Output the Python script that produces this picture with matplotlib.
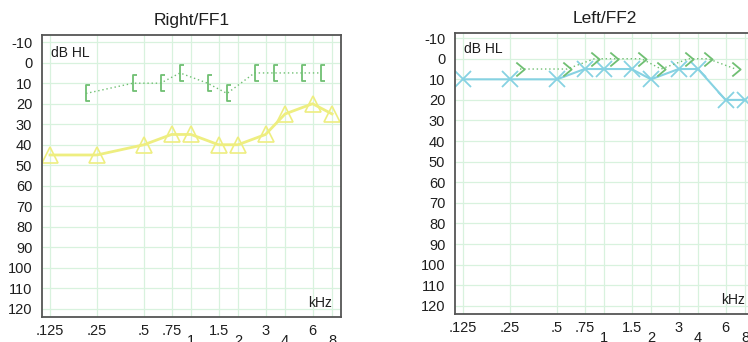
import numpy as np
import matplotlib
matplotlib.use('Agg')
import matplotlib.pyplot as plt
from matplotlib import transforms

plt.rcParams['font.family'] = ['Liberation Sans', 'DejaVu Sans']

# Data (dB HL)
upper_freqs = [0.125, 0.25, 0.5, 0.75, 1.5, 3, 6]
upper_labels = ['.125', '.25', '.5', '.75', '1.5', '3', '6']
lower_freqs = [1, 2, 4, 8]
lower_labels = ['1', '2', '4', '8']
db_ticks = list(range(-10, 121, 10))

# Right/FF1
right_air_freqs = [0.125, 0.25, 0.5, 0.75, 1, 1.5, 2, 3, 4, 6, 8]
right_air = [45, 45, 40, 35, 35, 40, 40, 35, 25, 20, 25]
right_bone_freqs = [0.25, 0.5, 0.75, 1, 1.5, 2, 3, 4, 6, 8]
right_bone = [15, 10, 10, 5, 10, 15, 5, 5, 5, 5]

# Left/FF2
left_air_freqs = [0.125, 0.25, 0.5, 0.75, 1, 1.5, 2, 3, 4, 6, 8]
left_air = [10, 10, 10, 5, 5, 5, 10, 5, 5, 20, 20]
left_bone_freqs = [0.25, 0.5, 0.75, 1, 1.5, 2, 3, 4, 6]
left_bone = [5, 5, 0, 0, 0, 5, 0, 0, 5]

yellow = '#eeee80'
cyan = '#86d2e2'
green = '#6fbf72'
grid_c = '#d8f2de'
txt_c = '#1e1e1e'

bracket = [(0.5, 1), (0, 1), (0, -1), (0.5, -1)]
chevron = [(-0.6, 1), (0.6, 0), (-0.6, -1)]

fig = plt.figure(figsize=(7.48, 3.42), dpi=100)


def setup(ax, title, ylim_top):
    ax.set_xscale('log', base=2)
    ax.set_xlim(0.125 * 2 ** -0.17, 8 * 2 ** 0.19)
    ax.set_ylim(124, ylim_top)
    ax.set_xticks(upper_freqs)
    ax.set_xticklabels(upper_labels)
    ax.set_xticks(lower_freqs, minor=True)
    ax.set_xticklabels(lower_labels, minor=True)
    ax.set_yticks(db_ticks)
    ax.set_yticklabels([str(v) for v in db_ticks])
    ax.tick_params(axis='x', which='major', length=0, pad=5, labelsize=10.5, colors=txt_c)
    ax.tick_params(axis='x', which='minor', length=0, pad=12.5, labelsize=10.5, colors=txt_c)
    ax.tick_params(axis='y', length=0, pad=7, labelsize=10.5, colors=txt_c)
    ax.grid(True, which='both', color=grid_c, lw=0.9)
    ax.set_axisbelow(True)
    for s in ax.spines.values():
        s.set_color('#555555')
        s.set_linewidth(1.3)
    ax.set_title(title, fontsize=12.5, pad=7, color=txt_c)
    ax.text(0.03, -4.5, 'dB HL', transform=transforms.blended_transform_factory(ax.transAxes, ax.transData),
            fontsize=10, va='center', ha='left', color=txt_c)
    ax.text(0.97, 0.05, 'kHz', transform=ax.transAxes, fontsize=10, ha='right', va='center',
            color=txt_c)


# Right/FF1
ax1 = fig.add_axes([42 / 748, 25 / 342, 299 / 748, 282 / 342])
setup(ax1, 'Right/FF1', -13.5)
ax1.plot(right_air_freqs, right_air, color=yellow, lw=2, marker='^', ms=11,
         mfc='none', mec=yellow, mew=1.2)
off_left = transforms.offset_copy(ax1.transData, fig=fig, x=-11, y=0, units='dots')
ax1.plot(right_bone_freqs, right_bone, color=green, lw=1, ls=(0, (1, 2)), marker=bracket,
         ms=11, mfc='none', mec=green, mew=1.3, transform=off_left)

# Left/FF2
ax2 = fig.add_axes([455 / 748, 28 / 342, 299 / 748, 281 / 342])
setup(ax2, 'Left/FF2', -12.5)
ax2.plot(left_air_freqs, left_air, color=cyan, lw=1.5, marker='x', ms=12,
         mec=cyan, mew=1.3)
off_right = transforms.offset_copy(ax2.transData, fig=fig, x=10, y=0, units='dots')
ax2.plot(left_bone_freqs, left_bone, color=green, lw=1, ls=(0, (1, 2)), marker=chevron,
         ms=10, mfc='none', mec=green, mew=1.3, transform=off_right)

fig.savefig('out.png', dpi=100)
